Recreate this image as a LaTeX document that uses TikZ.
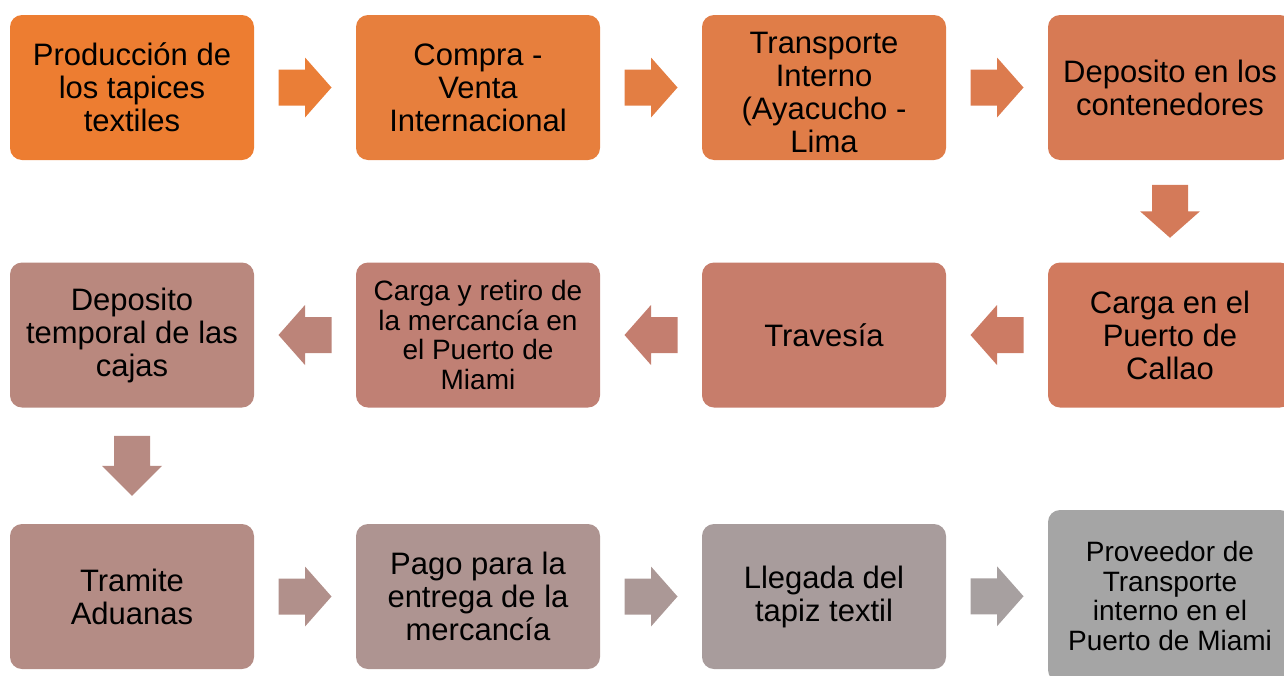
\documentclass[tikz,border=0pt]{standalone}
\usepackage{fontspec}
\setmainfont{Liberation Sans}
\usetikzlibrary{calc}
\definecolor{c1}{RGB}{237,125,49}
\definecolor{c2}{RGB}{231,127,61}
\definecolor{c3}{RGB}{224,125,72}
\definecolor{c4}{RGB}{215,122,84}
\definecolor{c5}{RGB}{209,122,94}
\definecolor{c6}{RGB}{199,125,107}
\definecolor{c7}{RGB}{192,128,116}
\definecolor{c8}{RGB}{185,136,126}
\definecolor{c9}{RGB}{180,140,133}
\definecolor{c10}{RGB}{174,148,145}
\definecolor{c11}{RGB}{168,156,156}
\definecolor{c12}{RGB}{165,165,165}
\tikzset{
  box/.style={rectangle, rounded corners=12pt, minimum width=244pt, minimum height=145pt,
    inner sep=3pt, align=center, text=black, font=\fontsize{31pt}{33pt}\selectfont},
  smalltext/.style={font=\fontsize{28pt}{29.5pt}\selectfont},
}
\newcommand\rarr[3]{\fill[#3] let \p1=($(#1.east)!0.5!(#2.west)$) in
  (\x1-26.5pt,\y1+18pt) -- (\x1,\y1+18pt) -- (\x1,\y1+30pt) -- (\x1+26.5pt,\y1)
  -- (\x1,\y1-30pt) -- (\x1,\y1-18pt) -- (\x1-26.5pt,\y1-18pt) -- cycle;}
\newcommand\larr[3]{\fill[#3] let \p1=($(#1.west)!0.5!(#2.east)$) in
  (\x1+26.5pt,\y1+18pt) -- (\x1,\y1+18pt) -- (\x1,\y1+30pt) -- (\x1-26.5pt,\y1)
  -- (\x1,\y1-30pt) -- (\x1,\y1-18pt) -- (\x1+26.5pt,\y1-18pt) -- cycle;}
\newcommand\darr[4]{\fill[#3] let \p1=($(#1.south)!0.5!(#2.north)$) in
  (\x1-18pt,\y1+#4) -- (\x1-18pt,\y1) -- (\x1-30pt,\y1) -- (\x1,\y1-#4)
  -- (\x1+30pt,\y1) -- (\x1+18pt,\y1) -- (\x1+18pt,\y1+#4) -- cycle;}
\begin{document}
\begin{tikzpicture}[x=1pt,y=-1pt]
\useasboundingbox (0,0) rectangle (1284,675);
\clip (0,0) rectangle (1284,675);
% row 1
\node[box, fill=c1] (b1) at (132,87.5) {Producción de\\los tapices\\textiles};
\node[box, fill=c2] (b2) at (478,87.5) {Compra -\\Venta\\Internacional};
\node[box, fill=c3] (b3) at (824,87.5) {\raisebox{-9pt}[\height][\depth]{\begin{tabular}{@{}c@{}}Transporte\\Interno\\(Ayacucho -\\Lima\end{tabular}}};
\node[box, fill=c4] (b4) at (1170,87.5) {Deposito en los\\contenedores};
% row 2
\node[box, fill=c5] (b5) at (1170,335) {Carga en el\\Puerto de\\Callao};
\node[box, fill=c6] (b6) at (824,335) {Travesía};
\node[box, smalltext, fill=c7] (b7) at (478,335) {Carga y retiro de\\la mercancía en\\el Puerto de\\Miami};
\node[box, fill=c8] (b8) at (132,335) {Deposito\\temporal de las\\cajas};
% row 3
\node[box, fill=c9] (b9) at (132,596.5) {Tramite\\Aduanas};
\node[box, fill=c10] (b10) at (478,596.5) {Pago para la\\entrega de la\\mercancía};
\node[box, fill=c11] (b11) at (824,596.5) {Llegada del\\tapiz textil};
\node[box, smalltext, fill=c12, minimum height=172pt] (b12) at (1170,596) {Proveedor de\\Transporte\\interno en el\\Puerto de Miami};
% arrows
\rarr{b1}{b2}{c1!50!c2}
\rarr{b2}{b3}{c2!50!c3}
\rarr{b3}{b4}{c3!50!c4}
\darr{b4}{b5}{c4!50!c5}{26.5pt}
\larr{b5}{b6}{c5!50!c6}
\larr{b6}{b7}{c6!50!c7}
\larr{b7}{b8}{c7!50!c8}
\darr{b8}{b9}{c8!50!c9}{30pt}
\rarr{b9}{b10}{c9!50!c10}
\rarr{b10}{b11}{c10!50!c11}
\rarr{b11}{b12}{c11!50!c12}
\end{tikzpicture}
\end{document}
